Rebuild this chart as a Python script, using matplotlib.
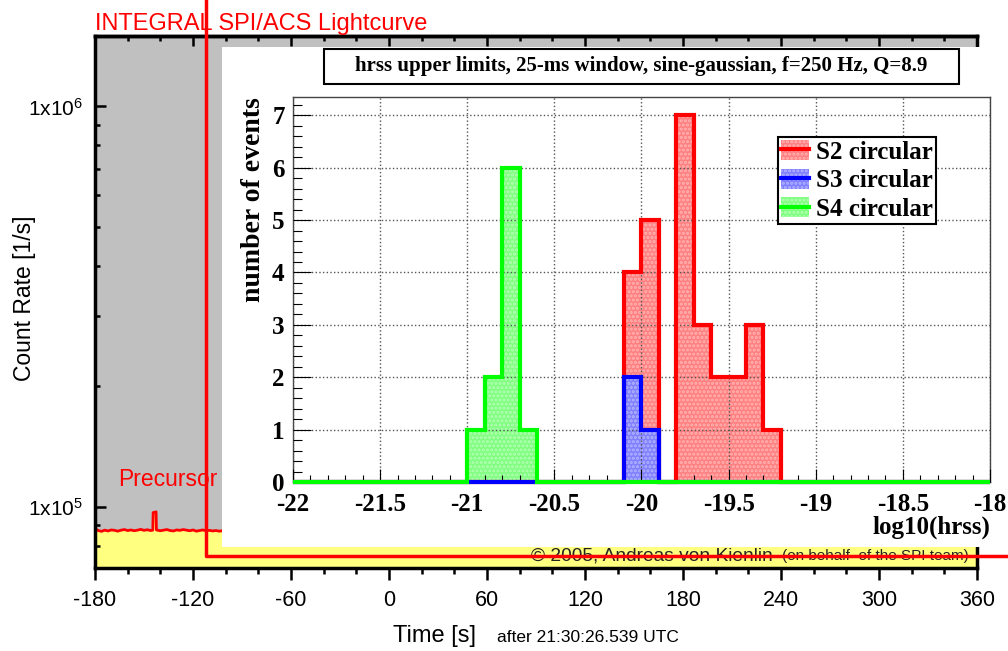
import numpy as np
import matplotlib.pyplot as plt
from matplotlib.patches import Patch, Rectangle
from matplotlib.lines import Line2D
from matplotlib.ticker import MultipleLocator, LogLocator, FixedLocator, NullFormatter, FuncFormatter

plt.rcParams['font.family'] = ['Liberation Sans', 'DejaVu Sans']
plt.rcParams['mathtext.default'] = 'regular'
plt.rcParams['axes.unicode_minus'] = False
plt.rcParams['hatch.linewidth'] = 1.5

W, H = 1008, 651

# SPI/ACS light curve (count rate, 1/s); the part behind the inset is plain background
lc_time = [-180, -178, -176, -174, -172, -170, -168, -166, -164, -162, -160, -158,
           -156, -154, -152, -150, -148, -146, -144.6, -144.4, -142.6, -142.4, -140,
           -138, -136, -134, -132, -130, -128, -126, -124, -122, -120, -118, -116,
           -114, -112, -110, -108, -106, -104, -102, -100,
           -80, -40, 0, 40, 80, 120, 160, 200, 240, 280, 320, 360]
lc_rate = [88200, 87300, 86900, 87500, 87100, 87600, 87400, 87000, 87500, 87800,
           87300, 87600, 87200, 87500, 87900, 87400, 87700, 87300, 87500, 96800,
           97200, 87600, 87200, 87500, 87800, 87300, 87100, 87600, 87400, 87800,
           87500, 87200, 87600, 87000, 87300, 87600, 87200, 87400, 87100, 87300,
           87000, 87200, 87100,
           87000, 86900, 86800, 86900, 86700, 86800, 86900, 86700, 86800, 86900,
           86800, 86700]

# hrss upper limit histograms, 0.1 wide bins in log10(hrss)
bin_edges = np.round(np.arange(-22.0, -17.95, 0.1), 2)
s2_start, s2_counts = -20.1, [4, 5, 0, 7, 3, 2, 2, 3, 1]
s3_start, s3_counts = -20.1, [2, 1]
s4_start, s4_counts = -21.0, [1, 2, 6, 1]
labels = ['S2 circular', 'S3 circular', 'S4 circular']


def full(start, counts):
    h = np.zeros(len(bin_edges) - 1)
    i = int(round((start - bin_edges[0]) / 0.1))
    h[i:i + len(counts)] = counts
    return h


def fbox(x0, y0, x1, y1):
    return [x0 / W, 1 - y1 / H, (x1 - x0) / W, (y1 - y0) / H]


fig = plt.figure(figsize=(W / 100, H / 100), dpi=100)

# ---- outer light curve ----
ax = fig.add_axes(fbox(95, 36, 977, 568))
ax.set_facecolor('#c0c0c0')
ax.set_yscale('log')
ax.fill_between(lc_time, 1, lc_rate, color='#ffff80', lw=0)
ax.plot(lc_time, lc_rate, color='red', lw=2)
ax.set_xlim(-180, 360)
ax.set_ylim(10 ** 4.8475, 10 ** 6.176)
ax.set_xticks(range(-180, 361, 60))
ax.xaxis.set_minor_locator(MultipleLocator(20))
ax.yaxis.set_major_locator(FixedLocator([1e5, 1e6]))
ax.yaxis.set_major_formatter(FuncFormatter(lambda v, p: r'1x10$^{%d}$' % round(np.log10(v))))
ax.yaxis.set_minor_locator(LogLocator(subs=range(2, 10)))
ax.yaxis.set_minor_formatter(NullFormatter())
ax.tick_params(axis='x', which='major', direction='out', length=8.6, width=1.8, labelsize=15.5, pad=7)
ax.tick_params(axis='x', which='minor', direction='out', length=4.3, width=1.8)
ax.tick_params(axis='y', which='major', direction='in', length=8, width=1.8, labelsize=15, pad=9)
ax.tick_params(axis='y', which='minor', direction='in', length=3.6, width=1.8)
for s in ax.spines.values():
    s.set_linewidth(2.5)
sec = ax.secondary_xaxis('top')
sec.set_xticks(range(-180, 361, 60))
sec.xaxis.set_minor_locator(MultipleLocator(20))
sec.tick_params(which='major', direction='in', length=7.2, width=1.8, labeltop=False)
sec.tick_params(which='minor', direction='in', length=3.6, width=1.8)
sec.spines['top'].set_linewidth(2.5)

ax.text(-166, 10 ** (5 + 27 / 400), 'Precursor', color='red', fontsize=16.5, va='center')
fig.text(95 / W, 1 - 30 / H, 'INTEGRAL SPI/ACS Lightcurve', color='red', fontsize=17, va='baseline')
fig.text(25 / W, 1 - 298 / H, 'Count Rate [1/s]', rotation=90, fontsize=16.5, ha='center', va='center')
fig.text(393 / W, 1 - 642 / H, 'Time [s]', fontsize=17, va='baseline')
fig.text(497 / W, 1 - 642 / H, 'after 21:30:26.539 UTC', fontsize=12.5, va='baseline')
fig.text(773 / W, 1 - 556 / H, '\u00a9 2005, Andreas von Kienlin', fontsize=13.8, color='#222222',
         ha='right', va='center', zorder=2.6)
fig.text(782 / W, 1 - 556 / H, '(on behalf  of the SPI team)', fontsize=11, color='#222222',
         ha='left', va='center', zorder=2.6)

# ---- inset ----
fig.add_artist(Rectangle((222 / W, 1 - 547 / H), 786 / W, 500 / H, transform=fig.transFigure,
                         fc='white', ec='none', zorder=1))
serif = {'family': 'Liberation Serif', 'weight': 'bold'}

hx = fig.add_axes(fbox(293, 97, 990, 482))
hx.set_zorder(2)
fills = ['#ff8080', '#8080ff', '#80ff80']
dots = ['#ffb4b4', '#b4b4ff', '#b4ffb4']
lines = ['#ff0000', '#0000ff', '#00ff00']
series = [full(s2_start, s2_counts), full(s3_start, s3_counts), full(s4_start, s4_counts)]
for vals, fc, dc, lc in zip(series, fills, dots, lines):
    hx.stairs(vals, bin_edges, fill=True, facecolor=fc, edgecolor=dc, hatch='....', lw=0, zorder=1)
    hx.stairs(vals, bin_edges, color=lc, lw=3, zorder=3, clip_on=False)
hx.set_xlim(-22, -18)
hx.set_ylim(0, 7.35)
hx.set_axisbelow(False)
hx.grid(True, which='major', ls=':', color='#555555', lw=1)
hx.xaxis.set_major_locator(MultipleLocator(0.5))
hx.xaxis.set_minor_locator(MultipleLocator(0.1))
hx.yaxis.set_major_locator(MultipleLocator(1))
hx.yaxis.set_minor_locator(MultipleLocator(0.2))
hx.xaxis.set_major_formatter(FuncFormatter(lambda v, p: '%g' % v))
hx.tick_params(axis='x', which='major', direction='in', length=9.4, width=0.8, labelsize=18, pad=8)
hx.tick_params(axis='x', which='minor', direction='in', length=5, width=0.8)
hx.tick_params(axis='y', which='major', direction='in', length=13, width=0.8, labelsize=18, pad=6)
hx.tick_params(axis='y', which='minor', direction='in', length=6.5, width=0.8)
for s in hx.spines.values():
    s.set_linewidth(1)
    s.set_color('#444444')
for lbl in hx.get_xticklabels() + hx.get_yticklabels():
    lbl.set_fontfamily(serif['family'])
    lbl.set_fontweight('bold')

handles = [(Patch(facecolor=fc, edgecolor=dc, hatch='....', lw=0), Line2D([], [], color=lc, lw=3))
           for fc, dc, lc in zip(fills, dots, lines)]
leg = hx.legend(handles, labels, loc='upper left', bbox_to_anchor=(0.696, 0.896), borderaxespad=0,
                prop=dict(serif, size=18), fancybox=False, framealpha=1, edgecolor='black',
                borderpad=0.12, labelspacing=0.2, handlelength=1.1, handleheight=0.85, handletextpad=0.3)
leg.get_frame().set_linewidth(1.5)

fig.add_artist(Rectangle((324 / W, 1 - 84 / H), 635 / W, 35 / H, transform=fig.transFigure,
                         fc='white', ec='black', lw=1.5, zorder=2.5))
fig.text(641.5 / W, 1 - 66.5 / H, 'hrss upper limits, 25-ms window, sine-gaussian, f=250 Hz, Q=8.9',
         ha='center', va='center', fontsize=15, zorder=2.6, **serif)
fig.text(253 / W, 1 - 200 / H, 'number of events', rotation=90, ha='center', va='center',
         fontsize=20, zorder=2.6, **serif)
fig.text(990 / W, 1 - 527 / H, 'log10(hrss)', ha='right', va='center', fontsize=18, zorder=2.6, **serif)

# red frame around the inset
fig.add_artist(Line2D([206 / W, 206 / W, 1], [1, 1 - 556 / H, 1 - 556 / H], transform=fig.transFigure,
                      color='red', lw=2.5, zorder=4))

fig.savefig('out.png', dpi=100)
